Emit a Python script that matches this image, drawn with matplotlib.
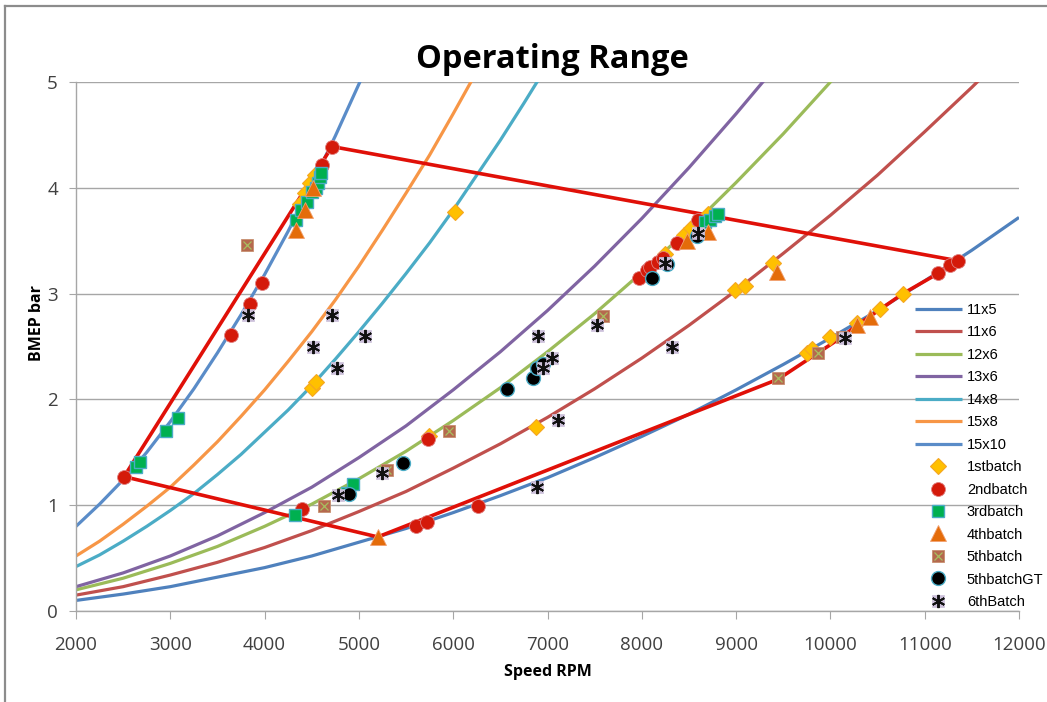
import matplotlib
matplotlib.use("Agg")
import matplotlib.pyplot as plt
from matplotlib.lines import Line2D
from matplotlib.legend_handler import HandlerTuple

# ---------------- data ----------------
rpm_coarse = [2000, 2500, 3000, 3500, 4000, 4500, 5000, 5500, 6000, 6500, 7000,
              7500, 8000, 8500, 9000, 9500, 10000, 10500, 11000, 11500, 12000]
rpm_fine = [2000, 2250, 2500, 2750, 3000, 3250, 3500, 3750, 4000, 4250, 4500, 4750,
            5000, 5250, 5500, 5750, 6000, 6250, 6500, 6750, 7000]

curve_11x5 = [0.10, 0.16, 0.23, 0.32, 0.41, 0.52, 0.65, 0.78, 0.93, 1.09, 1.26,
              1.45, 1.65, 1.86, 2.09, 2.33, 2.58, 2.84, 3.12, 3.41, 3.72]
curve_11x6 = [0.15, 0.23, 0.34, 0.46, 0.60, 0.76, 0.94, 1.13, 1.35, 1.58, 1.83,
              2.10, 2.39, 2.70, 3.03, 3.38, 3.74, 4.12, 4.53, 4.95, 5.39]
curve_12x6 = [0.20, 0.31, 0.45, 0.61, 0.80, 1.01, 1.25, 1.51, 1.80, 2.11, 2.45,
              2.81, 3.20, 3.61, 4.05, 4.51, 5.00, 5.51]
curve_13x6 = [0.23, 0.36, 0.52, 0.71, 0.93, 1.17, 1.45, 1.75, 2.09, 2.45, 2.84,
              3.26, 3.71, 4.19, 4.70, 5.23]
curve_14x8 = [0.42, 0.53, 0.66, 0.80, 0.95, 1.11, 1.29, 1.48, 1.69, 1.90, 2.13, 2.38,
              2.64, 2.91, 3.19, 3.48, 3.79, 4.12, 4.45, 4.80, 5.16]
curve_15x8 = [0.52, 0.66, 0.82, 0.99, 1.17, 1.38, 1.60, 1.84, 2.09, 2.36, 2.64, 2.94,
              3.26, 3.60, 3.95, 4.31, 4.70, 5.10]
curve_15x10 = [0.80, 1.01, 1.24, 1.50, 1.79, 2.10, 2.44, 2.80, 3.18, 3.59, 4.03, 4.49,
               4.98, 5.48]

curve_names = ["11x5", "11x6", "12x6", "13x6", "14x8", "15x8", "15x10"]

# operating envelope (red boundary)
env_rpm = [2510, 4715, 11353, 11268, 11141, 10770, 10526, 10280, 10123, 9869, 9444, 5200, 2510]
env_bmep = [1.27, 4.39, 3.31, 3.27, 3.19, 3.00, 2.85, 2.70, 2.59, 2.44, 2.19, 0.70, 1.27]

b1_rpm = [6020, 4500, 4550, 5740, 6880, 8990, 9090, 9390, 9750, 9800, 10000, 10280, 10530, 10770,
          8250, 8450, 8520, 8700, 4380, 4430, 4480, 4530]
b1_bmep = [3.77, 2.11, 2.16, 1.65, 1.74, 3.03, 3.07, 3.29, 2.44, 2.48, 2.59, 2.72, 2.85, 3.00,
           3.37, 3.55, 3.62, 3.75, 3.85, 3.95, 4.05, 4.12]

b2_rpm = [2510, 3640, 3850, 3970, 4610, 4715, 4400, 5730, 5605, 5722, 6263,
          7970, 8055, 8090, 8175, 8225, 8370, 8600, 11141, 11268, 11353]
b2_bmep = [1.27, 2.61, 2.90, 3.10, 4.22, 4.39, 0.96, 1.63, 0.80, 0.84, 0.99,
           3.15, 3.22, 3.25, 3.30, 3.34, 3.48, 3.70, 3.19, 3.27, 3.31]

b3_rpm = [2636, 2679, 2954, 3082, 4330, 4390, 4450, 4500, 4540, 4570, 4590, 4600,
          4322, 4874, 4937, 8670, 8723, 8777, 8808]
b3_bmep = [1.36, 1.41, 1.70, 1.82, 3.70, 3.79, 3.87, 3.96, 4.00, 4.05, 4.10, 4.14,
           0.91, 1.12, 1.20, 3.68, 3.70, 3.73, 3.75]

b4_rpm = [4333, 4428, 4513, 5200, 8480, 8700, 9433, 10280, 10420]
b4_bmep = [3.60, 3.79, 4.00, 0.70, 3.50, 3.58, 3.20, 2.70, 2.78]

b5_rpm = [3813, 4630, 5298, 5955, 7589, 9444, 9869, 10123]
b5_bmep = [3.46, 0.99, 1.33, 1.70, 2.79, 2.20, 2.44, 2.59]

b5gt_rpm = [4895, 5467, 6571, 6846, 6888, 6952, 8108, 8267, 8585]
b5gt_bmep = [1.11, 1.40, 2.10, 2.20, 2.30, 2.33, 3.15, 3.28, 3.54]

b6_rpm = [3824, 4715, 4513, 5065, 4768, 4778, 5245, 6899, 7048, 6952, 7525, 7111, 6888,
          8320, 8596, 8246, 10155]
b6_bmep = [2.80, 2.80, 2.50, 2.60, 2.30, 1.10, 1.30, 2.60, 2.39, 2.30, 2.70, 1.81, 1.17,
           2.50, 3.57, 3.29, 2.58]

x_ticks = [2000, 3000, 4000, 5000, 6000, 7000, 8000, 9000, 10000, 11000, 12000]
y_ticks = [0, 1, 2, 3, 4, 5]

# ---------------- style ----------------
curve_colors = ["#4F81BD", "#C0504D", "#9BBB59", "#8064A2", "#4BACC6", "#F79646", "#5A8CC8"]
curves = [curve_11x5, curve_11x6, curve_12x6, curve_13x6, curve_14x8, curve_15x8, curve_15x10]
curve_x = [rpm_coarse, rpm_coarse, rpm_coarse, rpm_coarse, rpm_fine, rpm_fine, rpm_fine]

fig = plt.figure(figsize=(10.47, 7.02), dpi=100)
ax = fig.add_axes([76 / 1047, 1 - 611 / 702, (1019 - 76) / 1047, (611 - 82) / 702])

handles = []
for name, xs, vals, col in zip(curve_names, curve_x, curves, curve_colors):
    h, = ax.plot(xs[:len(vals)], vals, color=col, lw=2.3, solid_capstyle="butt",
                 solid_joinstyle="round", zorder=2)
    handles.append(h)

ax.plot(env_rpm, env_bmep, color="#E01008", lw=2.6, zorder=3)

h1, = ax.plot(b1_rpm, b1_bmep, ls="none", marker="D", ms=8.5, mfc="#FFC000", mec="#F5A623", mew=0.8, zorder=4)
h2, = ax.plot(b2_rpm, b2_bmep, ls="none", marker="o", ms=10, mfc="#D41A0A", mec="#E08080", mew=0.6, zorder=5)
h3, = ax.plot(b3_rpm, b3_bmep, ls="none", marker="s", ms=8.5, mfc="#00B050", mec="#4BACC6", mew=1.0, zorder=6)
h4, = ax.plot(b4_rpm, b4_bmep, ls="none", marker="^", ms=11, mfc="#E46C0A", mec="#F2A070", mew=0.6, zorder=7)
h5a, = ax.plot(b5_rpm, b5_bmep, ls="none", marker="s", ms=9, mfc="#B5694E", mec="#C89070", mew=0.6, zorder=8)
h5b, = ax.plot(b5_rpm, b5_bmep, ls="none", marker="x", ms=6, mec="#A8C060", mew=0.9, zorder=8.5)
h6gt, = ax.plot(b5gt_rpm, b5gt_bmep, ls="none", marker="o", ms=10, mfc="#000000", mec="#4BACC6", mew=1.0, zorder=9)
h7a, = ax.plot(b6_rpm, b6_bmep, ls="none", marker="s", ms=8.5, mfc="#CCC0DA", mec="#CCC0DA", mew=0.5, zorder=10)
h7b, = ax.plot(b6_rpm, b6_bmep, ls="none", marker=(6, 2, 0), ms=9.5, mec="#111111", mew=1.4, zorder=10.5)

ax.set_xlim(2000, 12000)
ax.set_ylim(0, 5)
ax.set_xticks(x_ticks)
ax.set_yticks(y_ticks)
ax.yaxis.grid(True, color="#A6A6A6", lw=1.0)
ax.set_axisbelow(True)
for s in ["top", "right"]:
    ax.spines[s].set_visible(False)
for s in ["left", "bottom"]:
    ax.spines[s].set_color("#A6A6A6")
    ax.spines[s].set_linewidth(1.0)
ax.tick_params(axis="x", direction="out", length=6, color="#A6A6A6", pad=12,
               labelsize=13.5, labelcolor="#404040")
ax.tick_params(axis="y", direction="out", length=5, color="#A6A6A6", pad=8,
               labelsize=13.5, labelcolor="#404040")
for lab in ax.get_xticklabels() + ax.get_yticklabels():
    lab.set_family(["Open Sans", "DejaVu Sans"])

ax.set_xlabel("Speed RPM", fontsize=11.5, fontweight="bold", family=["Open Sans", "DejaVu Sans"])
ax.xaxis.set_label_coords(0.5, -0.1)
ax.set_ylabel("BMEP bar", fontsize=11.5, fontweight="bold", family=["Open Sans", "DejaVu Sans"])
ax.yaxis.set_label_coords(-0.033, 0.545)

fig.text(552 / 1047, 1 - 60 / 702, "Operating Range", ha="center", va="center",
         fontsize=23.5, fontweight="bold", family=["Open Sans", "DejaVu Sans"])

leg_handles = handles + [h1, h2, h3, h4, (h5a, h5b), h6gt, (h7a, h7b)]
leg_labels = curve_names + ["1stbatch", "2ndbatch", "3rdbatch", "4thbatch", "5thbatch",
                            "5thbatchGT", "6thBatch"]
leg = fig.legend(leg_handles, leg_labels, loc="upper left",
                 bbox_to_anchor=(915 / 1047, 1 - 303 / 702),
                 frameon=False, handlelength=3.2, handletextpad=0.35,
                 labelspacing=0.58, borderpad=0, borderaxespad=0,
                 handler_map={tuple: HandlerTuple(ndivide=1)},
                 prop={"family": ["Liberation Sans Narrow", "Liberation Sans", "DejaVu Sans"], "size": 10.5})

# figure border (only left and top visible in the original crop)
fig.add_artist(Line2D([5 / 1047, 5 / 1047], [0, 1 - 6 / 702], transform=fig.transFigure,
                      color="#8C8C8C", lw=1.6))
fig.add_artist(Line2D([5 / 1047, 1], [1 - 6 / 702, 1 - 6 / 702], transform=fig.transFigure,
                      color="#8C8C8C", lw=1.6))

fig.savefig("out.png", dpi=100)
